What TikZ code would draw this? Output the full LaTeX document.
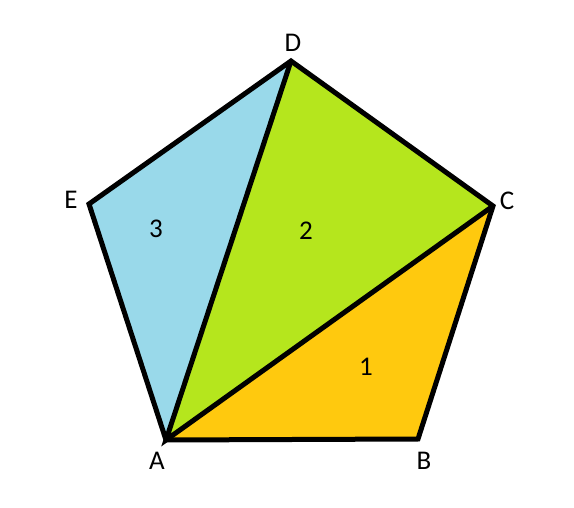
\documentclass[tikz,border=0pt]{standalone}
\usepackage{fontspec}
\setmainfont{Carlito}
\usepackage{tikz}
\usetikzlibrary{positioning}
\definecolor{paintblue}{RGB}{153,217,234}
\definecolor{paintlime}{RGB}{181,230,29}
\definecolor{paintgold}{RGB}{255,201,14}

\begin{document}
\begin{tikzpicture}
[x=1pt, y=-1pt, font=\fontsize{27}{32}\selectfont,
% STYLES
% The piece style is used to fill each triangle of the pentagon
piece/.style={draw=black, line width=5pt, line join=miter},
% The vertex style is used to write the name of each corner
vertex/.style={inner sep=0pt, anchor=center},
% The area style is used to write the number of each triangle
area/.style={inner sep=0pt, anchor=center}]

\useasboundingbox (0,0) rectangle (574,508);

% Corners of the pentagon
\coordinate (A) at (166,440);
\coordinate (B) at (418,439);
\coordinate (C) at (493,206);
\coordinate (D) at (291,61);
\coordinate (E) at (89,204);

% Draw triangles
\fill [paintblue] (A) -- (D) -- (E) -- cycle;
\fill [paintlime] (A) -- (C) -- (D) -- cycle;
\fill [paintgold] (A) -- (B) -- (C) -- cycle;
\draw [piece] (A) -- (B) -- (C) -- (D) -- (E) -- cycle;
\draw [piece] (D) -- (A) -- (C);

%%%%%%%%%%%%%%%
% Names of the corners
\node [vertex] (label-A) at (157,461) {A};
\node [vertex] (label-B) at (424,461) {B};
\node [vertex] (label-C) at (507,201) {C};
\node [vertex] (label-D) at (293,43) {D};
\node [vertex] (label-E) at (71,200) {E};

% Numbers of the triangles
\node [area] (one) at (366,367) {1};
\node [area] (two) at (306,231) {2};
\node [area] (three) at (156,229) {3};
%%%%%%%%%%%%%%%%

\end{tikzpicture}
\end{document}
